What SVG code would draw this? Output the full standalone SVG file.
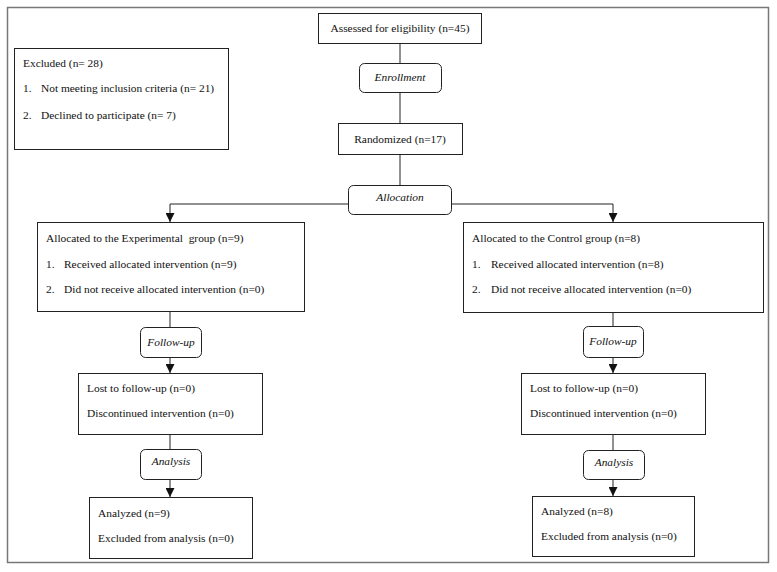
<svg xmlns="http://www.w3.org/2000/svg" width="777" height="572" viewBox="0 0 777 572">
<style>
.box{fill:#fff;stroke:#222;stroke-width:1}
.stage{fill:#fff;stroke:#222;stroke-width:1}
.t{font-family:"Liberation Serif","Times New Roman",serif;font-size:11.4px;fill:#111;white-space:pre}
.i{font-style:italic;text-anchor:middle}
.c{text-anchor:middle}
.ln{fill:none;stroke:#222;stroke-width:1}
</style>
<defs>
<marker id="ah" viewBox="0 0 10 10" refX="10" refY="5" markerWidth="9" markerHeight="9" markerUnits="userSpaceOnUse" orient="auto">
<path d="M0,0 L10,5 L0,10 Z" fill="#111"/>
</marker>
</defs>
<rect x="7.5" y="7.5" width="761" height="555" fill="#fff" stroke="#777" stroke-width="1.5"/>
<g id="connectors">
<line class="ln" x1="400" y1="43" x2="400" y2="63"/>
<line class="ln" x1="400" y1="92" x2="400" y2="123"/>
<line class="ln" x1="400" y1="154" x2="400" y2="185"/>
<polyline class="ln" points="348,204 170,204 170,222" marker-end="url(#ah)"/>
<polyline class="ln" points="451,204 613,204 613,222" marker-end="url(#ah)"/>
<line class="ln" x1="170" y1="312" x2="170" y2="327"/>
<line class="ln" x1="170" y1="357" x2="170" y2="373" marker-end="url(#ah)"/>
<line class="ln" x1="170" y1="434" x2="170" y2="449"/>
<line class="ln" x1="170" y1="479" x2="170" y2="497" marker-end="url(#ah)"/>
<line class="ln" x1="613" y1="313" x2="613" y2="326"/>
<line class="ln" x1="613" y1="357" x2="613" y2="373" marker-end="url(#ah)"/>
<line class="ln" x1="613" y1="434" x2="613" y2="450"/>
<line class="ln" x1="613" y1="479" x2="613" y2="496" marker-end="url(#ah)"/>
</g>
<g id="assessed">
<rect class="box" x="318.5" y="13.5" width="163" height="30"/>
<text class="t c" x="400" y="32">Assessed for eligibility (n=45)</text>
</g>
<g id="excluded">
<rect class="box" x="14.5" y="48.5" width="214" height="101"/>
<text class="t" x="23" y="67">Excluded (n= 28)</text>
<text class="t" x="23" y="92">1.</text>
<text class="t" x="41" y="92">Not meeting inclusion criteria (n= 21)</text>
<text class="t" x="23" y="119">2.</text>
<text class="t" x="41" y="119">Declined to participate (n= 7)</text>
</g>
<g id="enrollment">
<rect class="stage" x="359.5" y="63.5" width="82" height="29" rx="5"/>
<text class="t i" x="400" y="81">Enrollment</text>
</g>
<g id="randomized">
<rect class="box" x="338.5" y="123.5" width="124" height="31"/>
<text class="t c" x="400" y="143">Randomized (n=17)</text>
</g>
<g id="allocation">
<rect class="stage" x="348.5" y="185.5" width="103" height="29" rx="5"/>
<text class="t i" x="400" y="201">Allocation</text>
</g>
<g id="experimental">
<rect class="box" x="37.5" y="222.5" width="267" height="89"/>
<text class="t" x="46" y="242" xml:space="preserve">Allocated to the Experimental  group (n=9)</text>
<text class="t" x="46" y="268">1.</text>
<text class="t" x="64" y="268">Received allocated intervention (n=9)</text>
<text class="t" x="46" y="293">2.</text>
<text class="t" x="64" y="293">Did not receive allocated intervention (n=0)</text>
</g>
<g id="control">
<rect class="box" x="463.5" y="222.5" width="300" height="90"/>
<text class="t" x="472" y="242">Allocated to the Control group (n=8)</text>
<text class="t" x="472" y="268">1.</text>
<text class="t" x="491" y="268">Received allocated intervention (n=8)</text>
<text class="t" x="472" y="293">2.</text>
<text class="t" x="491" y="293">Did not receive allocated intervention (n=0)</text>
</g>
<g id="followup-exp">
<rect class="stage" x="140.5" y="327.5" width="61" height="30" rx="5"/>
<text class="t i" x="171" y="346">Follow-up</text>
</g>
<g id="followup-ctl">
<rect class="stage" x="583.5" y="326.5" width="60" height="31" rx="5"/>
<text class="t i" x="613" y="345">Follow-up</text>
</g>
<g id="lost-exp">
<rect class="box" x="78.5" y="373.5" width="184" height="61"/>
<text class="t" x="87" y="392">Lost to follow-up (n=0)</text>
<text class="t" x="87" y="417">Discontinued intervention (n=0)</text>
</g>
<g id="lost-ctl">
<rect class="box" x="521.5" y="373.5" width="184" height="61"/>
<text class="t" x="530" y="392">Lost to follow-up (n=0)</text>
<text class="t" x="530" y="417">Discontinued intervention (n=0)</text>
</g>
<g id="analysis-exp">
<rect class="stage" x="140.5" y="449.5" width="61" height="30" rx="5"/>
<text class="t i" x="171" y="465">Analysis</text>
</g>
<g id="analysis-ctl">
<rect class="stage" x="583.5" y="450.5" width="61" height="29" rx="5"/>
<text class="t i" x="614" y="466">Analysis</text>
</g>
<g id="analyzed-exp">
<rect class="box" x="89.5" y="497.5" width="163" height="61"/>
<text class="t" x="98" y="517">Analyzed (n=9)</text>
<text class="t" x="98" y="542">Excluded from analysis (n=0)</text>
</g>
<g id="analyzed-ctl">
<rect class="box" x="532.5" y="496.5" width="162" height="60"/>
<text class="t" x="541" y="515">Analyzed (n=8)</text>
<text class="t" x="541" y="540">Excluded from analysis (n=0)</text>
</g>
</svg>
